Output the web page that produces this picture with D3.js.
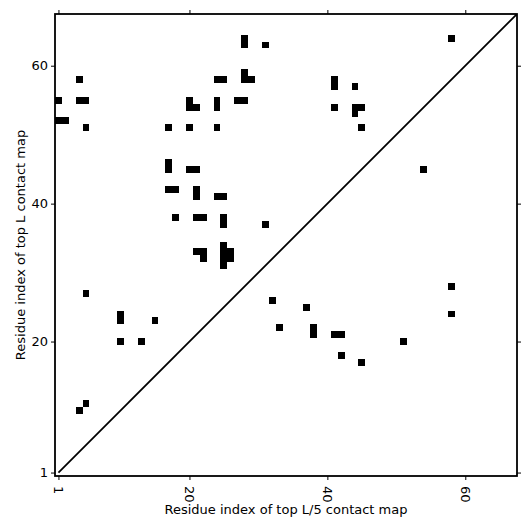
<!DOCTYPE html>
<html>
<head>
<meta charset="utf-8">
<script src="https://cdn.jsdelivr.net/npm/d3@7"></script>
<style>
  body { margin: 0; background: #fff; }
  text { font-family: "DejaVu Sans", sans-serif; }
</style>
</head>
<body>
<div id="chart"></div>
<script>
// 序列长度和刻度
var seqLen = 67;
var tickValues = [1, 20, 40, 60];

// 对角线上方的接触点 [x, y]
var upperContacts = [
    [1, 55], [1, 52], [2, 52], [4, 58], [4, 55], [5, 55], [5, 51],
    [17, 51], [20, 51], [20, 55], [20, 54], [21, 54],
    [17, 46], [17, 45], [20, 45], [21, 45],
    [17, 42], [18, 42], [21, 42], [21, 41], [24, 41], [25, 41],
    [18, 38], [21, 38], [22, 38], [25, 38], [25, 37], [31, 37],
    [21, 33], [22, 33], [22, 32],
    [25, 34], [25, 33], [25, 32], [25, 31], [26, 33], [26, 32],
    [28, 64], [28, 63], [31, 63], [24, 58], [25, 58],
    [28, 59], [28, 58], [29, 58], [24, 55], [24, 54], [27, 55], [28, 55], [24, 51],
    [41, 58], [41, 57], [44, 57], [41, 54], [44, 54], [45, 54], [44, 53], [45, 51],
    [58, 64],
    [5, 27], [10, 24], [10, 23], [15, 23], [10, 20], [13, 20], [5, 11], [4, 10]
];

// 对角线下方的接触点 [x, y]
var lowerContacts = [
    [54, 45], [32, 26], [37, 25], [33, 22], [38, 22], [38, 21],
    [41, 21], [42, 21], [42, 18], [45, 17], [51, 20], [58, 28], [58, 24]
];

var W = 531, H = 531;
var mLeft = 55, mTop = 14, size = 462;

var svg = d3.select("#chart")
    .append("svg")
    .attr("width", W)
    .attr("height", H);

var x = d3.scaleLinear()
    .domain([0.5, seqLen + 0.5])
    .range([mLeft, mLeft + size]);
var y = d3.scaleLinear()
    .domain([0.5, seqLen + 0.5])
    .range([mTop + size, mTop]);

svg.append("clipPath").attr("id", "plotclip")
    .append("rect")
    .attr("x", mLeft).attr("y", mTop)
    .attr("width", size).attr("height", size);

var plot = svg.append("g").attr("clip-path", "url(#plotclip)");

// 接触方块
plot.selectAll("rect.cell")
    .data(upperContacts.concat(lowerContacts))
    .enter()
    .append("rect")
    .attr("class", "cell")
    .attr("x", function (d) { return x(d[0] - 0.5); })
    .attr("y", function (d) { return y(d[1] + 0.5); })
    .attr("width", function (d) { return x(d[0] + 0.5) - x(d[0] - 0.5); })
    .attr("height", function (d) { return y(d[1] - 0.5) - y(d[1] + 0.5); })
    .attr("fill", "#000")
    .attr("shape-rendering", "crispEdges");

// 对角线
plot.append("line")
    .attr("x1", x(1)).attr("y1", y(1))
    .attr("x2", x(seqLen + 0.5)).attr("y2", y(seqLen + 0.5))
    .attr("stroke", "#000")
    .attr("stroke-width", 1.8);

// 坐标轴（四边都有刻度）
var tickLen = 4;
var fmt = d3.format("d");

var xBottom = svg.append("g")
    .attr("transform", "translate(0," + (mTop + size) + ")")
    .call(d3.axisBottom(x).tickValues(tickValues).tickSize(tickLen).tickFormat(fmt));
xBottom.selectAll(".tick text")
    .attr("transform", "translate(0,10) rotate(90)")
    .attr("x", 0).attr("y", 0).attr("dy", "0.35em")
    .attr("text-anchor", "start");

svg.append("g")
    .attr("transform", "translate(0," + mTop + ")")
    .call(d3.axisTop(x).tickValues(tickValues).tickSize(tickLen).tickFormat(""));

svg.append("g")
    .attr("transform", "translate(" + mLeft + ",0)")
    .call(d3.axisLeft(y).tickValues(tickValues).tickSize(tickLen).tickFormat(fmt));

svg.append("g")
    .attr("transform", "translate(" + (mLeft + size) + ",0)")
    .call(d3.axisRight(y).tickValues(tickValues).tickSize(tickLen).tickFormat(""));

svg.selectAll(".domain").remove();
svg.selectAll(".tick line").attr("stroke", "#000").attr("stroke-width", 1);
svg.selectAll(".tick text")
    .attr("fill", "#000")
    .style("font-size", "13px")
    .style("font-family", "DejaVu Sans");

// 边框
svg.append("rect")
    .attr("x", mLeft).attr("y", mTop)
    .attr("width", size).attr("height", size)
    .attr("fill", "none")
    .attr("stroke", "#000")
    .attr("stroke-width", 1.8);

// 轴标题
svg.append("text")
    .attr("x", mLeft + size / 2)
    .attr("y", 514)
    .attr("text-anchor", "middle")
    .style("font-size", "13px")
    .text("Residue index of top L/5 contact map");

svg.append("text")
    .attr("transform", "translate(25," + (mTop + size / 2) + ") rotate(-90)")
    .attr("text-anchor", "middle")
    .style("font-size", "13px")
    .text("Residue index of top L contact map");
</script>
</body>
</html>
